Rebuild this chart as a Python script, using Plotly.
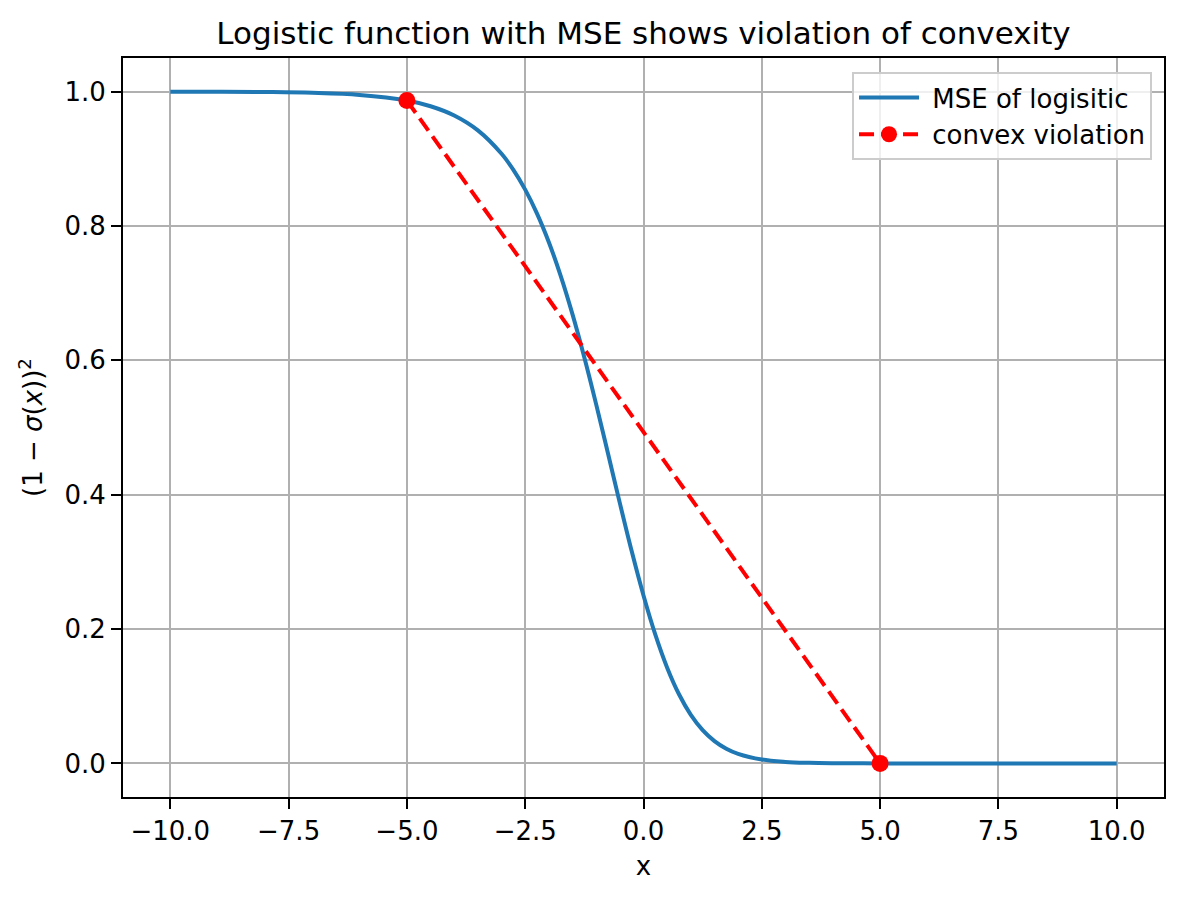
import plotly.graph_objects as go

# values (1 - sigma(x))^2
x_curve = [-10, -9, -8, -7, -6, -5, -4.5, -4, -3.5, -3, -2.75, -2.5, -2.25, -2,
           -1.75, -1.5, -1.25, -1, -0.75, -0.5, -0.25, 0, 0.25, 0.5, 0.75, 1,
           1.25, 1.5, 1.75, 2, 2.5, 3, 3.5, 4, 5, 6, 7, 8, 9, 10]
y_curve = [0.99991, 0.99975, 0.99933, 0.99818, 0.99506, 0.98666, 0.97815, 0.96435,
           0.94224, 0.90740, 0.88344, 0.85404, 0.81840, 0.77580, 0.72582, 0.66843,
           0.60419, 0.53445, 0.46128, 0.38746, 0.31604, 0.25, 0.19169, 0.14254,
           0.10293, 0.07233, 0.04960, 0.03328, 0.02192, 0.01421, 0.00575, 0.00225,
           0.00086, 0.00032, 0.00004, 0.00001, 0.0, 0.0, 0.0, 0.0]

# the two end points of the chord
x_chord = [-5, 5]
y_chord = [0.98666, 0.00004]

font = "DejaVu Sans"

fig = go.Figure()
fig.add_trace(go.Scatter(x=x_curve, y=y_curve, mode="lines", name="\u00a0MSE of logisitic",
                         line=dict(color="#1f77b4", width=4, shape="spline")))
fig.add_trace(go.Scatter(x=x_chord, y=y_chord, mode="lines+markers", name="\u00a0convex violation",
                         line=dict(color="red", width=4, dash="15px,7px"),
                         marker=dict(color="red", size=17)))

axis_style = dict(showline=True, mirror=True, linecolor="black", linewidth=2,
                  ticks="outside", ticklen=10, tickwidth=2, tickcolor="black",
                  showgrid=True, gridcolor="#b0b0b0", gridwidth=2, zeroline=False,
                  tickfont=dict(family=font, size=26, color="black"),
                  tickformat=".1f")

# page body adds an 8px offset, so the figure is 8px smaller and margins shifted
fig.update_layout(
    width=1176, height=890,
    margin=dict(l=115, r=20, t=50, b=101),
    paper_bgcolor="white", plot_bgcolor="white",
    font=dict(family=font, color="black"),
    title=dict(text="Logistic function with MSE shows violation of convexity",
               font=dict(family=font, size=31, color="black"),
               x=(115 + 1156) / 2 / 1176, xanchor="center",
               yref="container", y=1 - 25 / 890, yanchor="middle"),
    xaxis=dict(axis_style, range=[-11, 11], tick0=-10, dtick=2.5,
               title=dict(text="x", font=dict(family=font, size=26), standoff=12)),
    yaxis=dict(axis_style, range=[-0.05, 1.05], tick0=0, dtick=0.2,
               title=dict(text="(1 − <i>σ</i>(<i>x</i>))<sup>2</sup>",
                          font=dict(family=font, size=26), standoff=14)),
    legend=dict(x=0.9885, y=0.981, xanchor="right", yanchor="top",
                bgcolor="rgba(255,255,255,0.8)", bordercolor="#cccccc", borderwidth=2,
                font=dict(family=font, size=26, color="black"),
                itemwidth=60, tracegroupgap=0),
    showlegend=True,
)

fig.write_html("out.html")
